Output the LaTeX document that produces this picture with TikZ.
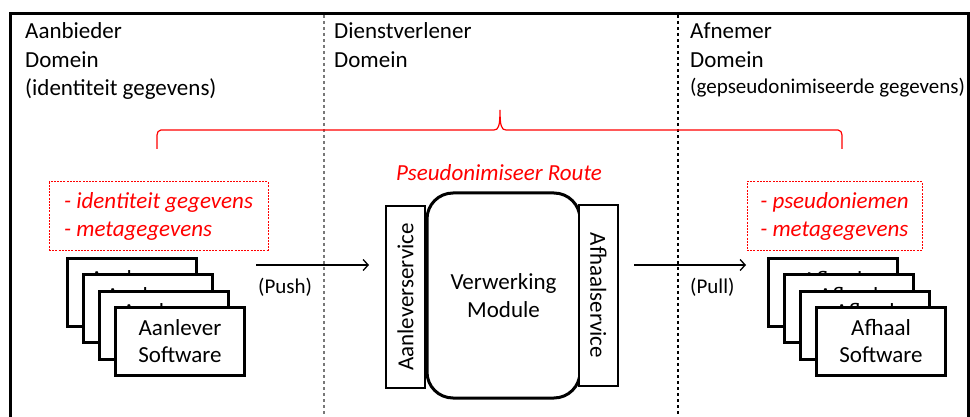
\documentclass[tikz,border=0pt]{standalone}
\usepackage{fontspec}
\setmainfont{Carlito}
\usetikzlibrary{arrows.meta}
\definecolor{pred}{RGB}{255,0,0}
\definecolor{sepgray}{RGB}{120,120,120}
\tikzset{
  big/.style={font=\fontsize{23}{28}\selectfont},
  small/.style={font=\fontsize{21}{26}\selectfont},
  lbl/.style={inner sep=0pt, anchor=base west},
  frameline/.style={line width=3pt},
  sepline/.style={line width=1.5pt, dash pattern=on 3.3pt off 2.7pt},
  swbox/.style={draw, line width=3pt, fill=white, minimum width=129pt, minimum height=68pt, inner sep=0pt, align=center, font=\fontsize{23}{27}\selectfont},
  notebox/.style={draw=pred, line width=1pt, dash pattern=on 2pt off 1.2pt, text=pred, minimum height=68pt, inner sep=0pt, align=left, font=\fontsize{23}{28}\selectfont\itshape},
  svcbox/.style={draw, line width=1.3pt, fill=white, minimum height=39pt, inner sep=0pt, font=\fontsize{23}{28}\selectfont},
  modbox/.style={draw, line width=3pt, rounded corners=26pt, minimum width=153pt, minimum height=205pt, align=center, inner sep=0pt, font=\fontsize{23}{28}\selectfont},
  flow/.style={line width=1.3pt, -{Straight Barb[length=5pt,width=11pt,line width=1.3pt]}},
  brace/.style={draw=pred, line width=1.2pt}
}
\begin{document}
\begin{tikzpicture}[x=1pt,y=-1pt]
\useasboundingbox (0,0) rectangle (970,417);
% frame
\draw[frameline] (10,418) -- (10,14) -- (968,14) -- (968,418);
% separators
\draw[sepline, draw=sepgray] (324,15) -- (324,417);
\draw[sepline, draw=black] (678,15) -- (678,417);
% headings
\node[lbl, big] (h1a) at (25,39) {Aanbieder};
\node[lbl, big] (h1b) at (25,68) {Domein};
\node[lbl, big] (h1c) at (25,96) {(identiteit gegevens)};
\node[lbl, big] (h2a) at (334,39) {Dienstverlener};
\node[lbl, big] (h2b) at (334,68) {Domein};
\node[lbl, big] (h3a) at (690,39) {Afnemer};
\node[lbl, big] (h3b) at (690,68) {Domein};
\node[lbl, small] (h3c) at (690,94) {(gepseudonimiseerde gegevens)};
% brace
\draw[brace] (157,149) -- (157,135) to[out=90,in=180] (161,130) -- (494,130)
  .. controls (498.5,130) and (500,126) .. (500,110)
  .. controls (500,126) and (501.5,130) .. (506,130) -- (838,130)
  to[out=0,in=90] (842,135) -- (842,149);
% red notes
\node[notebox, minimum width=219pt] (noteL) at (158.5,216) {- identiteit gegevens\\- metagegevens};
\node[notebox, minimum width=175pt] (noteR) at (834.5,216) {- pseudoniemen\\- metagegevens};
% left software stack
\node[swbox] (aL1) at (131.5,292.5) {Aanlever\\Software};
\node[swbox] (aL2) at (147.5,308.8) {Aanlever\\Software};
\node[swbox] (aL3) at (163.7,325) {Aanlever\\Software};
\node[swbox] (aL4) at (180,341) {Aanlever\\Software};
% right software stack
\node[swbox] (fR1) at (832.5,292.5) {Afhaal\\Software};
\node[swbox] (fR2) at (848.7,308.8) {Afhaal\\Software};
\node[swbox] (fR3) at (864.8,325) {Afhaal\\Software};
\node[swbox] (fR4) at (881,341) {Afhaal\\Software};
% middle
\node[inner sep=0pt, anchor=base, text=pred, font=\fontsize{23}{28}\selectfont\itshape] (route) at (499,181) {Pseudonimiseer Route};
\node[modbox] (mod) at (503.5,295.5) {Verwerking\\Module};
\node[svcbox, rotate=90, minimum width=182pt] (aan) at (405.5,297) {Aanleverservice};
\node[svcbox, rotate=-90, minimum width=181pt] (afh) at (598.5,295.5) {Afhaalservice};
% flows
\coordinate (pushS) at (256,265);
\coordinate (pushE) at (369,265);
\coordinate (pullS) at (634,265);
\coordinate (pullE) at (746,265);
\draw[flow] (pushS) -- (pushE);
\draw[flow] (pullS) -- (pullE);
\node[lbl, small] (push) at (258,293) {(Push)};
\node[lbl, small] (pull) at (690,293) {(Pull)};
\end{tikzpicture}
\end{document}
